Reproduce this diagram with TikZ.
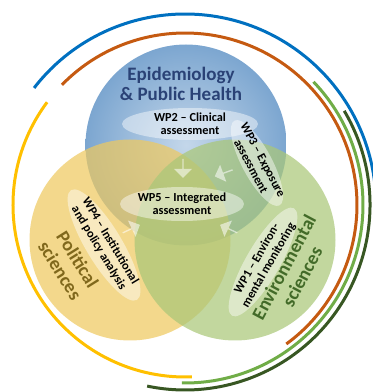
\documentclass[tikz,border=0pt]{standalone}
\usepackage{fontspec}
\setmainfont{Carlito}
\usepackage{tikz}
\usetikzlibrary{arrows,backgrounds,calc,shapes,shapes.arrows}
\pgfdeclarelayer{background}
\pgfsetlayers{background,main}

\definecolor{epiblue}{RGB}{124,166,208}
\definecolor{polyellow}{RGB}{238,201,96}
\definecolor{envgreen}{RGB}{170,199,120}
\definecolor{titleblue}{RGB}{42,66,118}
\definecolor{titlebrown}{RGB}{128,104,28}
\definecolor{titlegreen}{RGB}{66,106,40}
\definecolor{ringblue}{RGB}{0,112,192}
\definecolor{ringorange}{RGB}{197,90,17}
\definecolor{ringyellow}{RGB}{255,192,0}
\definecolor{ringlight}{RGB}{112,173,71}
\definecolor{ringdark}{RGB}{56,87,35}

\begin{document}
\begin{tikzpicture}[x=1pt,y=1pt,
  field/.style={circle,minimum size=201pt,inner sep=0pt},
  spot/.style={ellipse,fill=white,fill opacity=0.45,inner sep=0pt},
  wp/.style={font=\fontsize{12.3}{13.5}\selectfont\bfseries,align=center,text=black},
  big/.style={font=\fontsize{19}{20.5}\selectfont\bfseries,align=center},
  ring/.style={line width=3pt},
  push/.style={single arrow,fill=white,fill opacity=0.55,minimum height=19pt,minimum width=18pt,single arrow head extend=2.5pt,inner sep=0pt}]
  \useasboundingbox (0,0) rectangle (373,392);
  \coordinate (hub) at (185,187);

  % the three fields
  \node[field,inner color=epiblue!45!white,outer color=epiblue] (epi) at (186,247) {};
  \node[field,fill=polyellow,fill opacity=0.72] (pol) at (130,152) {};
  \node[field,fill=envgreen,fill opacity=0.72] (env) at (235,152) {};

  % rings round the fields
  \draw[ring,ringblue] (hub) ++(142.2:191pt) arc[start angle=142.2,end angle=5.5,radius=191pt];
  \draw[ring,ringorange] (hub) ++(135.7:172pt) arc[start angle=135.7,end angle=-53.9,radius=172pt];
  \draw[ring,ringyellow] (hub) ++(143.3:172pt) arc[start angle=143.3,end angle=272.3,radius=172pt];
  \draw[ring,ringlight] (hub) ++(43.8:178pt) arc[start angle=43.8,end angle=-91,radius=178pt];
  \draw[ring,ringdark] (hub) ++(30.6:185pt) arc[start angle=30.6,end angle=-101.8,radius=185pt];

  % highlights under the work packages
  \node[spot,minimum width=136pt,minimum height=32pt] (s2) at (190,268) {};
  \node[spot,minimum width=96pt,minimum height=30pt,rotate=-62] (s3) at (257,229) {};
  \node[spot,minimum width=124pt,minimum height=34pt] (s5) at (182,188) {};
  \node[spot,minimum width=128pt,minimum height=36pt,rotate=-59] (s4) at (104,147) {};
  \node[spot,minimum width=124pt,minimum height=34pt,rotate=60] (s1) at (263,130) {};

  \node[push,rotate=-90] (a2) at (183,224) {};
  \node[push,rotate=200] (a3) at (224,219) {};
  \node[push,rotate=25] (a4) at (131,163) {};
  \node[push,rotate=155] (a1) at (229,163) {};

  \node[big,text=titleblue] (epitxt) at (181,308) {Epidemiology\\\& Public Health};
  \node[big,text=titlebrown,rotate=-58] (poltxt) at (69,127) {Political\\sciences};
  \node[big,text=titlegreen,rotate=62] (envtxt) at (293,120) {Environmental\\sciences};

  \node[wp] (wp2) at (190,268.5) {WP2 -- Clinical\\assessment};
  \node[wp,rotate=-62] (wp3) at (257,229) {WP3 -- Exposure\\assessment};
  \node[wp] (wp5) at (182,188.5) {WP5 -- Integrated\\assessment};
  \node[wp,rotate=-59] (wp4) at (104.5,147.5) {WP4 -- Institutional\\and policy analysis};
  \node[wp,rotate=60] (wp1) at (263,130) {WP1 -- Environ-\\mental monitoring};
\end{tikzpicture}
\end{document}
